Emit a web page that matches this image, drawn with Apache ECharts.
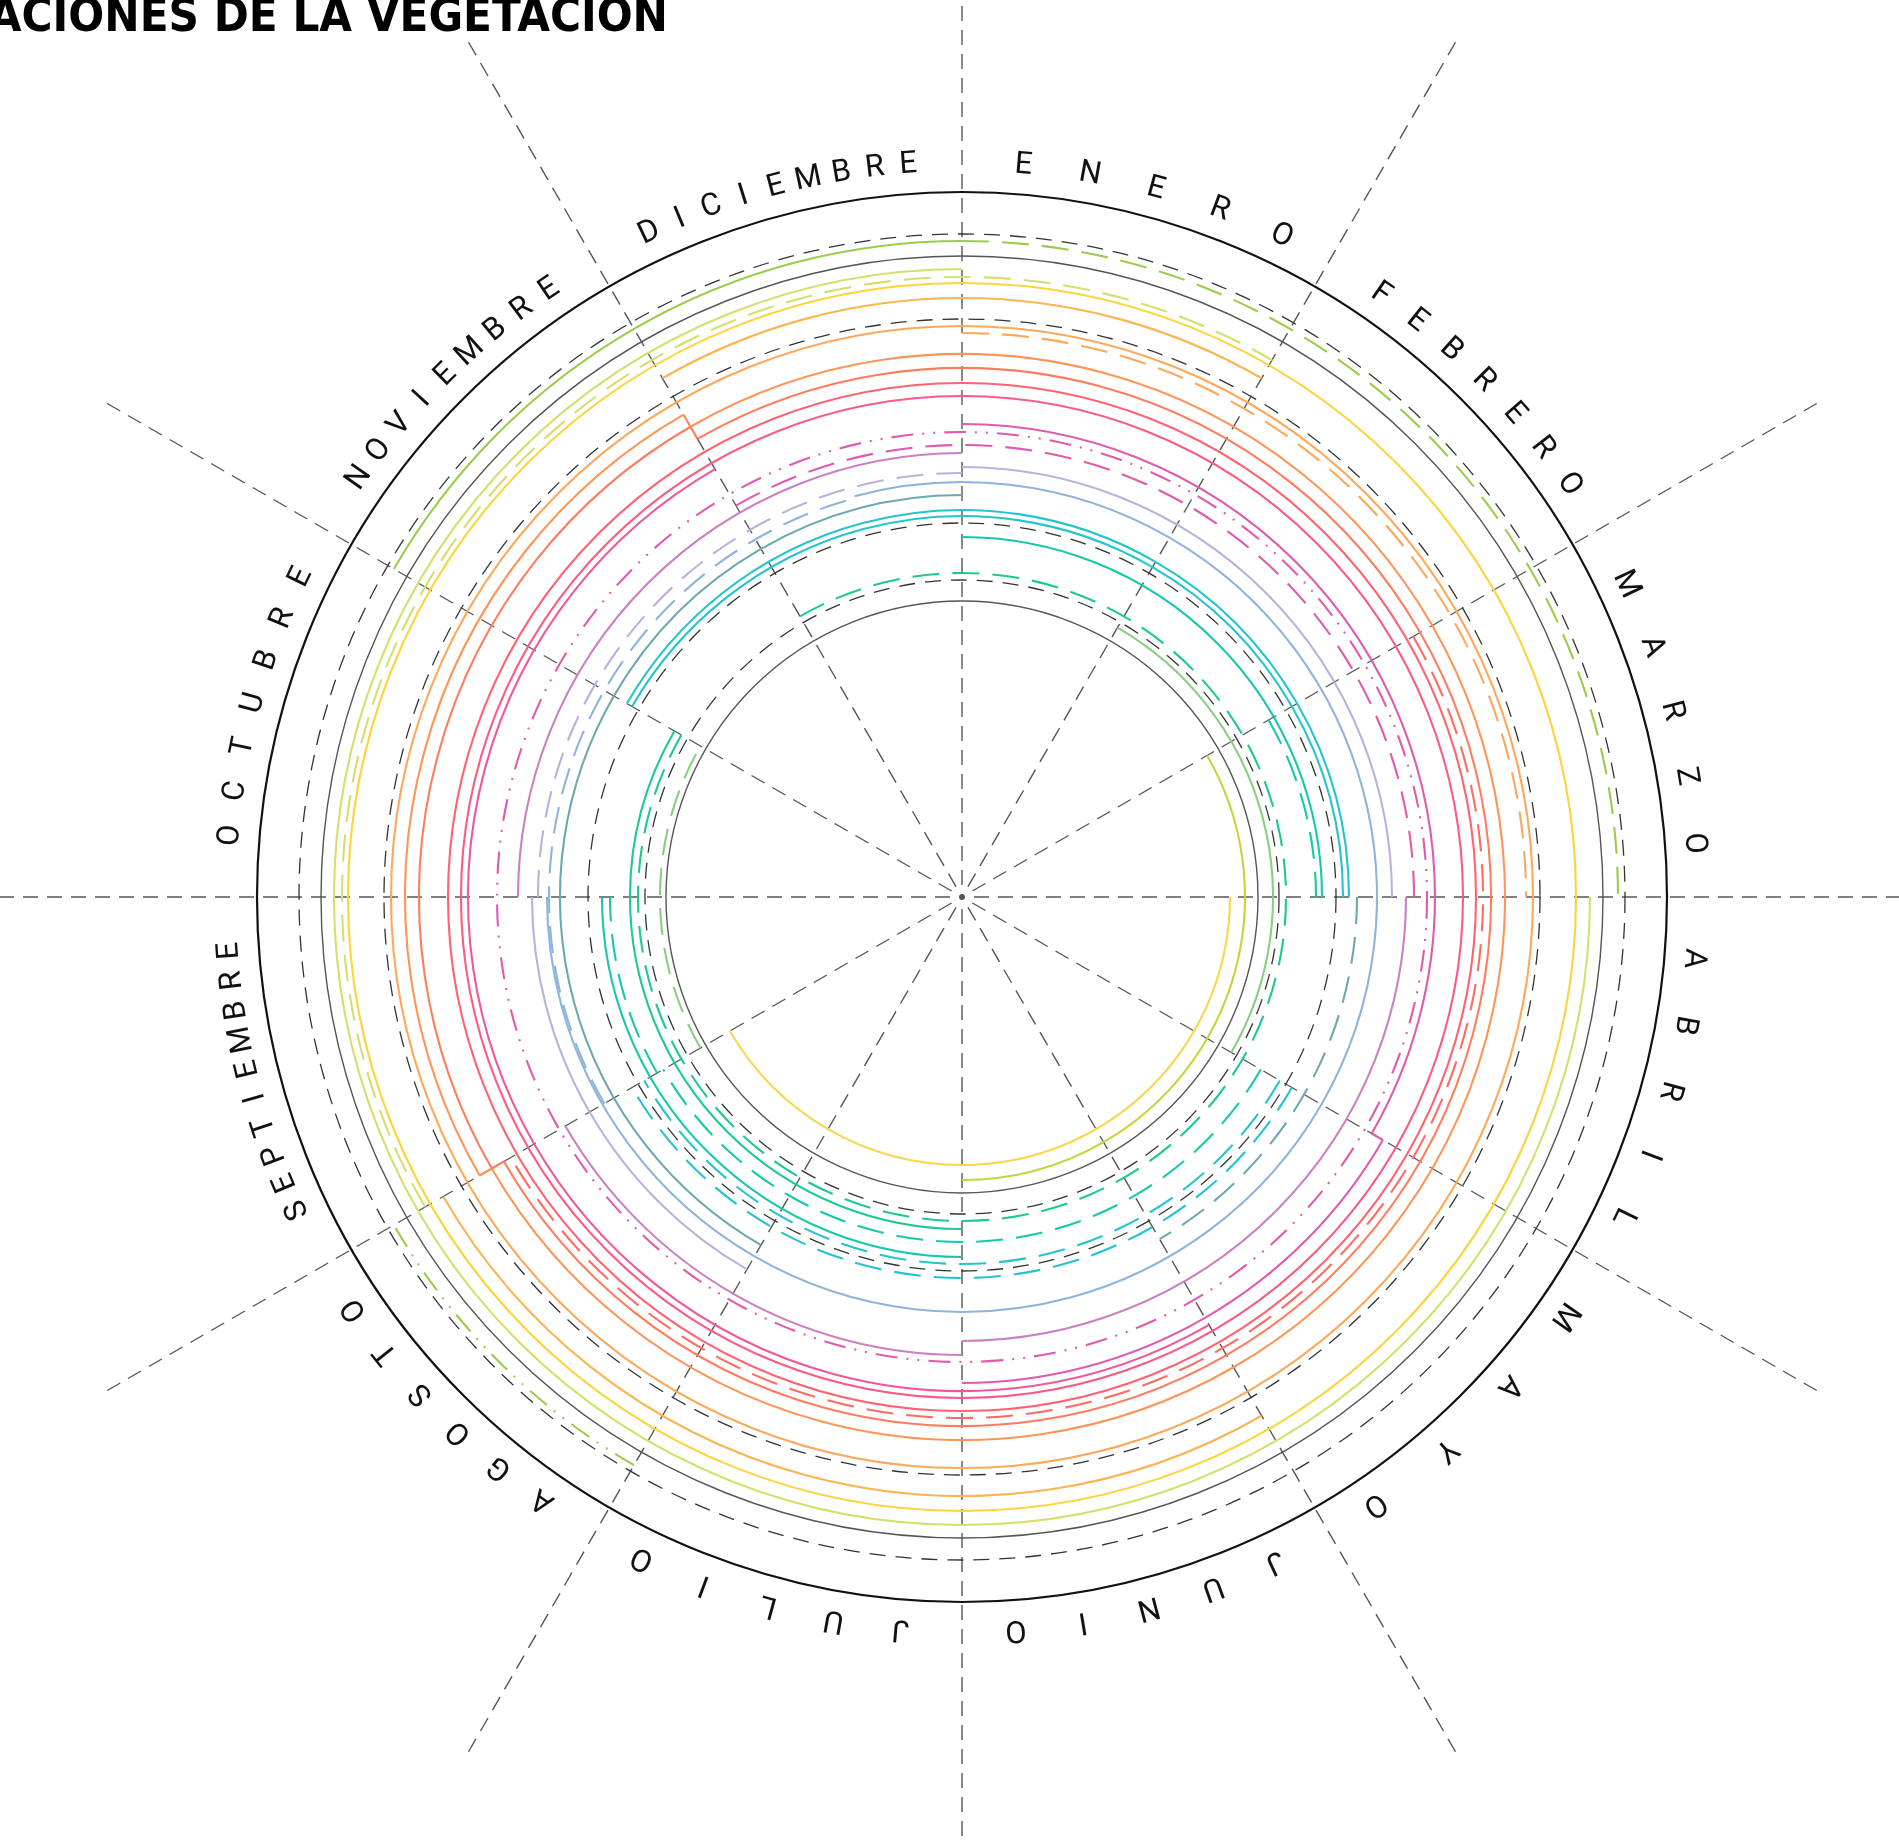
<!DOCTYPE html>
<html>
<head>
<meta charset="utf-8">
<script src="https://cdn.jsdelivr.net/npm/echarts@6/dist/echarts.min.js"></script>
<style>
  html, body { margin: 0; padding: 0; background: #fff; }
  #chart { width: 1899px; height: 1843px; }
</style>
</head>
<body>
<div id="chart"></div>
<script>
// month names, drawn letter by letter round the outside
var months = ['ENERO', 'FEBRERO', 'MARZO', 'ABRIL', 'MAYO', 'JUNIO', 'JULIO',
  'AGOSTO', 'SEPTIEMBRE', 'OCTUBRE', 'NOVIEMBRE', 'DICIEMBRE'];

// black reference rings (ring position on the radius axis)
var solidGuides = [296, 641, 705];
var dashedGuides = [317, 374, 578, 663];

// one list per plant: [ring, from month, to month, phase]
// months count from 0 = 1 January, clockwise; phase 0 solid, 1 dashed, 2 dash-dot
var greenOuter  = [[656, 10, 12, 0], [656, 0, 3, 1], [656, 7, 8, 2]];
var yellowGreen = [[628, 3, 12, 0], [620, 8, 13, 1]];
var yellow      = [[614, 0, 12, 0]];
var lightOrange = [[599, 11, 13, 0], [599, 5, 8, 0]];
var orange      = [[571, 0, 12, 0], [564, 0, 3, 1]];
var deepOrange  = [[557, 8, 11, 0], [543, 11, 20, 0]];
var coral       = [[543, 8, 11, 0], [529, 11, 20, 0]];
var redDashed   = [[521, 2, 8, 1]];
var red         = [[514, 0, 12, 0]];
var rose        = [[501, 0, 12, 0]];
var pink        = [[494, 5, 11, 0]];
var magenta     = [[473, 0, 4, 0], [486, 4, 6, 0], [465, 0, 12, 2], [452, 11, 15, 1]];
var orchid      = [[444, 3, 6, 0], [444, 9, 12, 0], [458, 6, 8, 0]];
var lavender    = [[430, 0, 3, 0], [430, 7, 9, 0], [424, 9, 12, 1]];
var blue        = [[415, 11.5, 21, 0], [413, 8, 11.5, 1]];
var steel       = [[402, 7, 12, 0], [395, 3, 5, 1]];
var cyan        = [[387, 10, 15, 0], [381, 10, 15, 0], [381, 4, 8, 1], [367, 4, 8, 1]];
var teal        = [[360, 0, 3, 0], [360, 6, 9, 0], [354, 2, 3, 1], [345, 4, 8, 1], [352, 8, 9, 1]];
var green       = [[332, 6, 10, 0], [324, 11, 22, 1]];
var lightGreen  = [[311, 1, 4, 0], [302, 8, 10, 1]];
var olive       = [[283, 2, 6, 0]];
var yellowInner = [[268, 3, 8, 0]];

// radial steps where a plant line moves ring: [plant index, month, ring a, ring b]
var steps = [[5, 11, 557, 543], [5, 8, 543, 557], [6, 11, 543, 529], [6, 8, 529, 543], [11, 4, 473, 486]];

var plantArcs = [greenOuter, yellowGreen, yellow, lightOrange, orange, deepOrange, coral,
  redDashed, red, rose, pink, magenta, orchid, lavender, blue, steel, cyan, teal,
  green, lightGreen, olive, yellowInner];

var plantColors = ['#9ccc4c', '#d4df6d', '#fdd43c', '#fdb452', '#fda85a', '#fe9558', '#ff7d5e',
  '#ff6b63', '#ff6270', '#fb5b82', '#f0589b', '#e05aae', '#cb80c3', '#b7b4dc', '#8eb4dc',
  '#6ba9b0', '#24c4cf', '#16c9ab', '#1cc994', '#86d07f', '#c8d33c', '#fbd64a'];

var phaseDash = [null, [27, 13], [22, 9, 2, 9, 2, 9]];

function ringShape(params, api, ring, from, to) {
  var cs = params.coordSys;
  var p0 = api.coord([ring, from % 12]);
  var p1 = api.coord([ring, to % 12]);
  var r = Math.sqrt(Math.pow(p0[0] - cs.cx, 2) + Math.pow(p0[1] - cs.cy, 2));
  if (to - from >= 12) {
    return { type: 'circle', shape: { cx: cs.cx, cy: cs.cy, r: r } };
  }
  return {
    type: 'arc',
    shape: {
      cx: cs.cx, cy: cs.cy, r: r,
      startAngle: Math.atan2(p0[1] - cs.cy, p0[0] - cs.cx),
      endAngle: Math.atan2(p1[1] - cs.cy, p1[0] - cs.cx),
      clockwise: true
    }
  };
}

var series = [];

function guideSeries(list, width, color, dash) {
  return {
    type: 'custom', coordinateSystem: 'polar', silent: true,
    data: list.map(function (r) { return [r, 0]; }),
    renderItem: function (params, api) {
      var el = ringShape(params, api, api.value(0), 0, 12);
      el.style = { stroke: color, fill: 'none', lineWidth: width, lineDash: dash };
      return el;
    }
  };
}
series.push(guideSeries(dashedGuides, 1.3, '#333', [16, 10]));
series.push(guideSeries([solidGuides[0], solidGuides[1]], 1.4, '#555', null));
series.push(guideSeries([solidGuides[2]], 2.2, '#111', null));

plantArcs.forEach(function (arcs, i) {
  series.push({
    type: 'custom', coordinateSystem: 'polar', silent: true,
    data: arcs,
    renderItem: function (params, api) {
      var el = ringShape(params, api, api.value(0), api.value(1), api.value(2));
      el.style = { stroke: plantColors[i], fill: 'none', lineWidth: 2.1, lineDash: phaseDash[api.value(3)] };
      return el;
    }
  });
});

series.push({
  type: 'custom', coordinateSystem: 'polar', silent: true,
  data: steps,
  renderItem: function (params, api) {
    var a = api.coord([api.value(2), api.value(1)]);
    var b = api.coord([api.value(3), api.value(1)]);
    return {
      type: 'line',
      shape: { x1: a[0], y1: a[1], x2: b[0], y2: b[1] },
      style: { stroke: plantColors[api.value(0)], lineWidth: 2.1 }
    };
  }
});

// month letters spread over each month's sector
var letters = [];
months.forEach(function (name, m) {
  var n = name.length;
  for (var k = 0; k < n; k++) {
    letters.push([734, m + 0.16 + k * 0.7 / (n - 1), m, k]);
  }
});
series.push({
  type: 'custom', coordinateSystem: 'polar', silent: true,
  data: letters,
  renderItem: function (params, api) {
    var cs = params.coordSys;
    var p = api.coord([api.value(0), api.value(1)]);
    var bearing = Math.atan2(p[0] - cs.cx, cs.cy - p[1]);
    var ch = months[api.value(2)].charAt(api.value(3));
    return {
      type: 'text', x: p[0], y: p[1], rotation: -bearing,
      style: {
        text: ch, x: 0, y: 0, fill: '#111',
        font: '400 31px Roboto, "Noto Sans", sans-serif',
        align: 'center', verticalAlign: 'middle'
      }
    };
  }
});

var chart = echarts.init(document.getElementById('chart'));
chart.setOption({
  animation: false,
  backgroundColor: '#fff',
  polar: { center: [962, 897], radius: 987 },
  angleAxis: {
    type: 'value', min: 0, max: 12, interval: 1,
    startAngle: 90, clockwise: true,
    axisLine: { show: false }, axisTick: { show: false }, axisLabel: { show: false },
    splitLine: { show: true, lineStyle: { color: '#555', width: 1.4, type: [15, 9] } }
  },
  radiusAxis: {
    type: 'value', min: 0, max: 987,
    axisLine: { show: false }, axisTick: { show: false }, axisLabel: { show: false },
    splitLine: { show: false }
  },
  graphic: [{
    type: 'text', x: 668, y: -5,
    style: {
      text: 'VARIACIONES DE LA VEGETACION',
      font: 'bold 47px "DejaVu Sans Condensed", "DejaVu Sans", sans-serif',
      fill: '#000', align: 'right', verticalAlign: 'top'
    }
  }],
  series: series
});
</script>
</body>
</html>
